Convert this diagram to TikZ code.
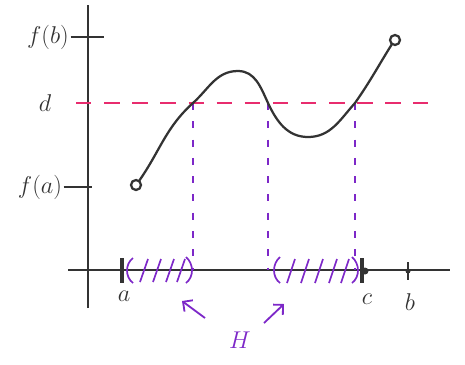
\documentclass[tikz,border=0pt]{standalone}
\usepackage{tikz}
\usetikzlibrary{positioning, arrows.meta, calc}
\definecolor{ivtpink}{RGB}{232, 44, 110}
\definecolor{ivtpurple}{RGB}{125, 40, 200}

\begin{document}
\begin{tikzpicture}[x=0.025cm, y=-0.025cm,
    axisline/.style={line width=1.3pt, black!80},
    graphline/.style={line width=1.6pt, black!80},
    levelline/.style={ivtpink, line width=1.5pt, dash pattern=on 11pt off 9pt},
    dropline/.style={ivtpurple, line width=1.2pt, dash pattern=on 5pt off 8pt},
    hatchmark/.style={ivtpurple, line width=1.2pt},
    lbl/.style={font=\LARGE, black!80, inner sep=1pt},
    hlbl/.style={font=\LARGE, ivtpurple, inner sep=1pt},
    pointer/.style={ivtpurple, line width=1.3pt, -{Straight Barb[length=5pt]}}]
  \useasboundingbox (0,0) rectangle (465,364);
  % axes
  \coordinate (ytop) at (88,5);
  \coordinate (ybot) at (88,308);
  \coordinate (xleft) at (68,270);
  \coordinate (xright) at (450,270);
  \draw[axisline] (ybot) -- (ytop);
  \draw[axisline] (xleft) -- (xright);
  % y ticks and labels
  \node[lbl] (fb) at (48,37) {$f(b)$};
  \node[lbl] (fa) at (40,187) {$f(a)$};
  \node[lbl] (dl) at (45,103) {$d$};
  \draw[axisline] (fb.east) -- (fb.east -| ytop) -- ++(16,0);
  \draw[axisline] (fa.east) -- (fa.east -| ytop) -- ++(4,0);
  % level d
  \coordinate (dstart) at (76,103);
  \coordinate (dend) at (428,103);
  \draw[levelline] (dstart) -- (dend);
  % crossings
  \coordinate (p1) at (193,103);
  \coordinate (p2) at (268,103);
  \coordinate (p3) at (355,103);
  \foreach \p in {p1,p2,p3}
    \draw[dropline] (\p) -- (\p |- xleft);
  % graph
  \coordinate (start) at (136,185);
  \coordinate (finish) at (395,40);
  \coordinate (peak) at (238,71);
  \coordinate (trough) at (308,137);
  \draw[graphline] (139,181) to[out=55, in=222] (p1)
    to[out=42, in=180] (peak)
    to[out=0, in=115] (p2)
    to[out=-65, in=180] (trough)
    to[out=0, in=228] (p3)
    to[out=55, in=238] (392,44);
  \draw[graphline] (start) circle (5);
  \draw[graphline] (finish) circle (5);
  % x ticks and labels
  \draw[line width=2.5pt, black!80] (122,258) -- (122,283);
  \draw[line width=2.5pt, black!80] (362,258) -- (362,283);
  \fill[black!80] (365,271) circle (3.5);
  \draw[line width=1.5pt, black!80] (408,262) -- (408,280);
  \fill[black!80] (408,271) circle (2.5);
  \node[lbl] (al) at (124,296) {$a$};
  \node[lbl] (cl) at (367,299) {$c$};
  \node[lbl] (bl) at (410,302) {$b$};
  % hatched set H
  \draw[hatchmark] (133,258) .. controls (125,264) and (125,277) .. (133,283);
  \draw[hatchmark] (186,257) .. controls (194,264) and (194,277) .. (186,283);
  \foreach \x in {144,157,170,181}
    \draw[hatchmark] (\x-4,282) -- (\x+4,259);
  \draw[hatchmark] (280,257) .. controls (272,264) and (272,277) .. (280,283);
  \draw[hatchmark] (352,257) .. controls (360,264) and (360,277) .. (352,283);
  \foreach \x in {291,305,319,333,345}
    \draw[hatchmark] (\x-4,283) -- (\x+4,259);
  \node[hlbl] (H) at (240,340) {$H$};
  \coordinate (h1) at (182,301);
  \coordinate (h2) at (284,304);
  \draw[pointer] (205,318) -- (h1);
  \draw[pointer] (264,323) -- (h2);
\end{tikzpicture}
\end{document}
